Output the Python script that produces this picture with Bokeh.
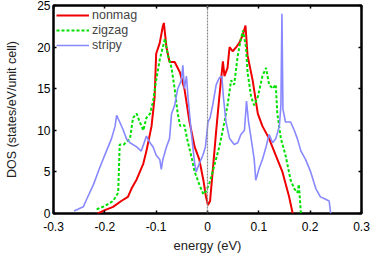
from bokeh.plotting import figure
from bokeh.models import LinearAxis, Span, Legend, LegendItem, FixedTicker, Range1d
from bokeh.embed import file_html
from bokeh.resources import INLINE

# ---- data ----
nonmag_x = [-0.214, -0.2, -0.184, -0.168, -0.155, -0.148, -0.138, -0.125, -0.119, -0.109, -0.103, -0.1,
            -0.093, -0.087, -0.085, -0.08, -0.074, -0.064, -0.054, -0.045, -0.035, -0.025, -0.016, -0.008,
            -0.003, 0.001, 0.005, 0.01, 0.017, 0.023, 0.03, 0.033, 0.039, 0.043, 0.049, 0.056, 0.062,
            0.069, 0.074, 0.078, 0.088, 0.098, 0.107, 0.12, 0.133, 0.146, 0.159, 0.166]
nonmag_y = [0, 0.4, 0.8, 1.5, 2.0, 3.0, 4.1, 6.0, 7.5, 10.5, 14, 19.2,
            20.5, 22.5, 22.9, 20, 18.2, 18.2, 17, 15, 11, 8, 6.5, 4,
            2, 1.0, 1.5, 5, 10, 14, 18.3, 16.5, 17.5, 20, 19.5, 20, 20.5,
            21.5, 22.6, 19, 16, 12, 10.5, 9, 7, 5, 2, 0]

zigzag_x = [-0.216, -0.2, -0.184, -0.174, -0.171, -0.163, -0.151, -0.145, -0.138, -0.132, -0.125, -0.119,
            -0.112, -0.106, -0.1, -0.093, -0.083, -0.077, -0.07, -0.064, -0.058, -0.053, -0.045, -0.038,
            -0.032, -0.025, -0.016, -0.008, -0.003, 0.003, 0.01, 0.023, 0.033, 0.039, 0.046, 0.052,
            0.059, 0.065, 0.069, 0.075, 0.078, 0.085, 0.091, 0.098, 0.107, 0.114, 0.12, 0.127, 0.133,
            0.136, 0.143, 0.152, 0.162, 0.169, 0.175, 0.178, 0.182]
zigzag_y = [0.5, 0.9, 1.5, 2.5, 8.3, 8.3, 9, 11.5, 12, 11, 10, 11.5,
            12, 13.5, 16, 18.5, 21, 19, 17.5, 15, 12, 10.5, 10.6, 8.5,
            7, 5, 3.5, 2.3, 2.7, 3.5, 5, 8, 11, 13, 16, 15.5,
            19, 21, 22, 20, 17, 14, 13, 14, 16.5, 17.5, 15.5, 15, 15.5,
            12, 9, 7, 4, 3, 2.5, 3.5, 0]

stripy_x = [-0.26, -0.242, -0.237, -0.222, -0.21, -0.197, -0.187, -0.18, -0.177, -0.171, -0.164, -0.158,
            -0.151, -0.138, -0.129, -0.119, -0.112, -0.106, -0.1, -0.093, -0.09, -0.087, -0.08, -0.074,
            -0.07, -0.064, -0.058, -0.051, -0.048, -0.045, -0.041, -0.038, -0.032, -0.025, -0.022, -0.016,
            -0.009, -0.004, 0.001, 0.005, 0.01, 0.017, 0.023, 0.028, 0.031, 0.036, 0.043, 0.052, 0.059,
            0.065, 0.072, 0.076, 0.08, 0.085, 0.091, 0.094, 0.101, 0.107, 0.114, 0.12, 0.127, 0.133,
            0.14, 0.143, 0.145, 0.147, 0.152, 0.162, 0.169, 0.175, 0.182, 0.191, 0.201, 0.211, 0.22,
            0.227, 0.237, 0.24]
stripy_y = [0.3, 0.8, 1.5, 3.5, 5.5, 7.5, 9, 10.5, 11.8, 11, 10, 9,
            8.5, 8, 7.5, 9.3, 8.5, 8, 7, 6.5, 5.3, 6.5, 8, 9,
            12, 13, 15, 16, 17.8, 15, 16.5, 14, 10, 6, 5, 6,
            7, 8, 11, 11.5, 13, 15.5, 16.3, 16.5, 14, 11, 9, 8.3, 8.5,
            9.5, 10, 13.5, 11, 9, 6.5, 4, 5.5, 6.5, 8, 9.5, 8.5, 9,
            10.5, 13, 24, 12.5, 11, 11, 10, 9, 7.5, 6.5, 5, 3, 2,
            1.8, 1.5, 0]

x_ticks = [-0.3, -0.2, -0.1, 0, 0.1, 0.2, 0.3]
x_tick_labels = ["-0.3", "-0.2", "-0.1", "0", "0.1", "0.2", "0.3"]
y_ticks = [0, 5, 10, 15, 20, 25]

FONT = "Liberation Sans"

p = figure(width=374, height=255, output_backend="svg", toolbar_location=None,
           x_range=Range1d(-0.3, 0.3), y_range=Range1d(0, 25),
           min_border_left=53, min_border_right=13, min_border_top=5, min_border_bottom=42)
p.grid.visible = False
p.outline_line_color = "black"
p.outline_line_width = 2.5
p.background_fill_color = "white"
p.border_fill_color = "white"

def style_axis(ax, show_labels=True):
    ax.axis_line_color = None
    ax.major_tick_in = 3
    ax.major_tick_out = 0
    ax.major_tick_line_width = 1.5
    ax.minor_tick_line_color = None
    ax.major_label_text_font = FONT
    ax.major_label_text_font_size = "12px"
    ax.major_label_text_color = "black"
    ax.axis_label_text_font = FONT
    ax.axis_label_text_font_style = "normal"
    ax.axis_label_text_color = "#222222"
    if not show_labels:
        ax.major_label_standoff = 0

xa = p.xaxis[0]
xa.ticker = FixedTicker(ticks=x_ticks)
xa.major_label_overrides = {t: l for t, l in zip(x_ticks, x_tick_labels)}
xa.axis_label = "energy (eV)"
style_axis(xa)
xa.axis_label_text_font_size = "13px"
xa.major_label_standoff = 8
xa.axis_label_standoff = 4

ya = p.yaxis[0]
ya.ticker = FixedTicker(ticks=y_ticks)
ya.axis_label = "DOS (states/eV/unit cell)"
style_axis(ya)
ya.axis_label_text_font_size = "12.5px"
ya.major_label_standoff = 3
ya.axis_label_standoff = 15

top = LinearAxis(ticker=FixedTicker(ticks=x_ticks),
                 major_label_overrides={t: "" for t in x_ticks})
style_axis(top, show_labels=False)
p.add_layout(top, "above")
right = LinearAxis(ticker=FixedTicker(ticks=y_ticks),
                   major_label_overrides={t: "" for t in y_ticks})
style_axis(right, show_labels=False)
p.add_layout(right, "right")

p.add_layout(Span(location=0, dimension="height", line_color="#888888",
                  line_width=1.2, line_dash="2 1"))

r1 = p.line(nonmag_x, nonmag_y, line_color="#ee0000", line_width=2)
r2 = p.line(zigzag_x, zigzag_y, line_color="#00e000", line_width=2, line_dash="3 2")
r3 = p.line(stripy_x, stripy_y, line_color="#8888ff", line_width=1.6)

legend = Legend(items=[LegendItem(label="nonmag", renderers=[r1]),
                       LegendItem(label="zigzag", renderers=[r2]),
                       LegendItem(label="stripy", renderers=[r3])],
                location="top_left", border_line_color=None, background_fill_alpha=0,
                label_text_font=FONT, label_text_font_size="12.5px",
                glyph_width=33, glyph_height=12, label_height=12, label_standoff=3,
                spacing=1, padding=2, margin=3)
p.add_layout(legend)

open("out.html", "w").write(file_html(p, INLINE))
